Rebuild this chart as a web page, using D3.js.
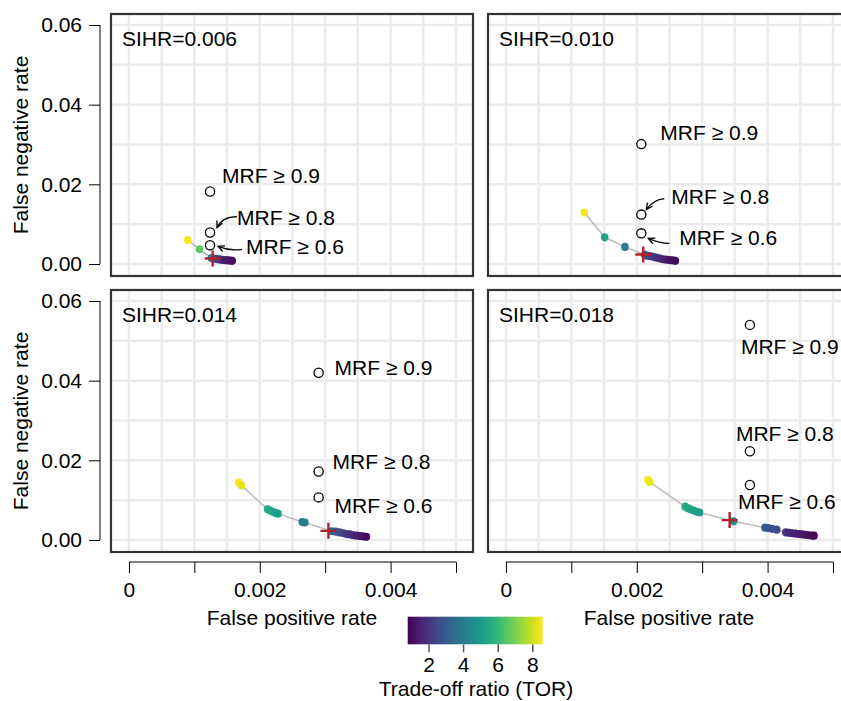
<!DOCTYPE html>
<html><head><meta charset="utf-8">
<script src="https://cdn.jsdelivr.net/npm/d3@7"></script>
<style>body{margin:0;background:#fff;} text{font-family:"Liberation Sans",Arial,sans-serif;}</style>
</head><body>
<svg id="chart" width="841" height="701"></svg>
<script>
// ---------------- DATA ----------------
const panelTitles = ["SIHR=0.006", "SIHR=0.010", "SIHR=0.014", "SIHR=0.018"];
// curve points: [false positive rate, false negative rate, TOR]
const curve1 = [[0.00090,0.0060,8.5],[0.00108,0.0037,6.7],[0.00126,0.0015,4.0],
  [0.00131,0.00135,3.0],[0.00134,0.00125,2.6],[0.00137,0.0012,2.3],[0.00140,0.0011,2.0],[0.00143,0.00105,1.8],
  [0.00146,0.0010,1.6],[0.00149,0.00095,1.4],[0.00152,0.0009,1.3],[0.00155,0.00085,1.2],[0.00158,0.0008,1.1]];
const curve2 = [[0.00120,0.0129,8.5],[0.00151,0.0067,5.4],[0.00182,0.0043,4.0],
  [0.00212,0.0023,3.2],[0.00216,0.0021,2.8],[0.00220,0.0020,2.5],[0.00225,0.0018,2.2],[0.00230,0.0016,2.0],
  [0.00235,0.0014,1.8],[0.00240,0.0012,1.6],[0.00245,0.0011,1.4],[0.00250,0.0010,1.2],[0.00255,0.0009,1.1],[0.00259,0.0008,1.0]];
const curve3 = [[0.00168,0.0144,8.6],[0.00172,0.0137,8.3],
  [0.00212,0.0077,5.6],[0.00216,0.0074,5.5],[0.00220,0.0071,5.4],[0.00224,0.0068,5.3],[0.00228,0.0066,5.2],
  [0.00265,0.0045,4.1],[0.00269,0.0044,4.0],
  [0.00310,0.0022,3.3],[0.00316,0.0021,3.0],[0.00322,0.0019,2.7],[0.00328,0.0017,2.4],[0.00333,0.0015,2.1],
  [0.00338,0.0014,1.9],[0.00343,0.0012,1.7],[0.00348,0.0011,1.5],[0.00353,0.0010,1.3],[0.00358,0.0009,1.2],[0.00363,0.0008,1.0]];
const curve4 = [[0.00217,0.0151,8.6],[0.00220,0.0145,8.3],
  [0.00274,0.0084,5.6],[0.00278,0.0080,5.5],[0.00282,0.0077,5.4],[0.00287,0.0074,5.3],[0.00292,0.0071,5.2],[0.00296,0.0069,5.1],
  [0.00348,0.0047,4.6],
  [0.00396,0.0031,3.0],[0.00401,0.0030,2.9],[0.00407,0.0028,2.7],[0.00414,0.0026,2.6],
  [0.00428,0.0019,1.9],[0.00433,0.0018,1.7],[0.00438,0.0017,1.6],[0.00443,0.0016,1.5],[0.00448,0.0015,1.4],
  [0.00453,0.0014,1.3],[0.00458,0.0013,1.2],[0.00463,0.0012,1.1],[0.00468,0.0011,1.0],[0.00471,0.0011,0.9]];
const curves = [curve1, curve2, curve3, curve4];
// selected (red cross) points: [fpr, fnr]
const chosenPoints = [[0.00128,0.0014],[0.00210,0.0024],[0.00305,0.0023],[0.00342,0.0050]];
// MRF threshold points: fpr and fnr for thresholds 0.9, 0.8, 0.6
const mrfLabels = ["MRF \u2265 0.9", "MRF \u2265 0.8", "MRF \u2265 0.6"];
const mrfFpr = [0.00124, 0.00207, 0.00290, 0.00373];
const mrfFnr = [[0.0182,0.0079,0.0047],[0.0301,0.0124,0.0077],[0.0420,0.0172,0.0107],[0.0540,0.0223,0.0138]];
const yTicks = [0, 0.02, 0.04, 0.06];
const xTicks = [0, 0.001, 0.002, 0.003, 0.004, 0.005];
const colorTicks = [2, 4, 6, 8];
const torRange = [0.8, 8.6];

// ---------------- LAYOUT ----------------
// label offsets (px, relative to circle): [dx, dy]
const labelOffsets = [
  [[12,-16],[27,-15],[36,1]],
  [[19,-12],[30,-18],[38,4]],
  [[16,-5],[14,-10],[16,8]],
  [[-9,22],[-14,-18],[-12,16]]
];
// arrows: [panel, mrfIndex, start offset, control offset, end offset]
const arrows = [
  [0,1,[27,-16],[12,-16],[7,-5]],
  [0,2,[32,4],[20,6],[8,1]],
  [1,1,[23,-16],[12,-15],[5,-5]],
  [1,2,[28,10],[18,10],[7,5]]
];

const svg = d3.select("#chart");
const fs = 21;
const colLeft = [111, 488], rowTop = [14, 290], pw = 362, ph = 262;
const xDom = [-0.000274, 0.00526], yDom = [-0.00301, 0.06276];
const color = d3.scaleSequential(d3.interpolateViridis).domain(torRange);

curves.forEach((curve, i) => {
  const c = i % 2, r = Math.floor(i / 2);
  const x = d3.scaleLinear().domain(xDom).range([colLeft[c], colLeft[c] + pw]);
  const y = d3.scaleLinear().domain(yDom).range([rowTop[r] + ph, rowTop[r]]);
  const g = svg.append("g");
  const clipId = "clip" + i;
  svg.append("clipPath").attr("id", clipId).append("rect")
    .attr("x", colLeft[c]).attr("y", rowTop[r]).attr("width", pw).attr("height", ph);
  const inner = g.append("g").attr("clip-path", `url(#${clipId})`);
  inner.append("rect").attr("x", colLeft[c]).attr("y", rowTop[r]).attr("width", pw).attr("height", ph).attr("fill", "#fff");
  // grid
  const gx = d3.range(0, 0.00551, 0.0005), gy = d3.range(-0.01, 0.0701, 0.01);
  inner.selectAll(".gx").data(gx).join("line")
    .attr("x1", d => x(d)).attr("x2", d => x(d)).attr("y1", rowTop[r]).attr("y2", rowTop[r] + ph)
    .attr("stroke", "#ebebeb").attr("stroke-width", 2.5);
  inner.selectAll(".gy").data(gy).join("line")
    .attr("y1", d => y(d)).attr("y2", d => y(d)).attr("x1", colLeft[c]).attr("x2", colLeft[c] + pw)
    .attr("stroke", "#ebebeb").attr("stroke-width", 2.5);
  // connecting line
  const sorted = curve.slice().sort((a, b) => a[0] - b[0]);
  inner.append("path").datum(sorted)
    .attr("d", d3.line().x(d => x(d[0])).y(d => y(d[1])))
    .attr("fill", "none").attr("stroke", "#bdbdbd").attr("stroke-width", 1.6);
  // points
  inner.selectAll(".pt").data(curve).join("ellipse")
    .attr("cx", d => x(d[0])).attr("cy", d => y(d[1])).attr("rx", 3.8).attr("ry", 4.1)
    .attr("fill", d => color(d[2]));
  // chosen cross
  const cp = chosenPoints[i], cs = 8;
  inner.append("path")
    .attr("d", `M${x(cp[0]) - cs},${y(cp[1])}H${x(cp[0]) + cs}M${x(cp[0])},${y(cp[1]) - cs}V${y(cp[1]) + cs}`)
    .attr("stroke", "#b2202a").attr("stroke-width", 2.4);
  // MRF circles
  mrfFnr[i].forEach((v, k) => {
    const px = x(mrfFpr[i]), py = y(v);
    inner.append("circle").attr("cx", px).attr("cy", py).attr("r", 4.6)
      .attr("fill", "#fff").attr("stroke", "#000").attr("stroke-width", 1.3);
    const off = labelOffsets[i][k];
    inner.append("text").attr("x", px + off[0]).attr("y", py + off[1]).attr("dy", "0.36em")
      .attr("font-size", fs).attr("fill", "#000").text(mrfLabels[k]);
  });
  arrows.filter(a => a[0] === i).forEach(a => {
    const px = x(mrfFpr[i]), py = y(mrfFnr[i][a[1]]);
    const s = [px + a[2][0], py + a[2][1]], q = [px + a[3][0], py + a[3][1]], e = [px + a[4][0], py + a[4][1]];
    inner.append("path").attr("d", `M${s}Q${q} ${e}`).attr("fill", "none").attr("stroke", "#000").attr("stroke-width", 1.3);
    const ang = Math.atan2(e[1] - q[1], e[0] - q[0]), L = 7, sp = 0.45;
    const h1 = [e[0] - L * Math.cos(ang - sp), e[1] - L * Math.sin(ang - sp)];
    const h2 = [e[0] - L * Math.cos(ang + sp), e[1] - L * Math.sin(ang + sp)];
    inner.append("path").attr("d", `M${h1}L${e}L${h2}`).attr("fill", "none").attr("stroke", "#000").attr("stroke-width", 1.3);
  });
  // title
  inner.append("text").attr("x", colLeft[c] + 11).attr("y", rowTop[r] + 24).attr("dy", "0.36em")
    .attr("font-size", fs).text(panelTitles[i]);
  // border
  g.append("rect").attr("x", colLeft[c]).attr("y", rowTop[r]).attr("width", pw).attr("height", ph)
    .attr("fill", "none").attr("stroke", "#333").attr("stroke-width", 2.2);

  // y axis
  if (c === 0) {
    const ax = svg.append("g").attr("transform", "translate(100,0)")
      .call(d3.axisLeft(y).tickValues(yTicks).tickFormat(d3.format(".2f")).tickSize(11).tickPadding(7));
    ax.select(".domain").remove();
    ax.append("line").attr("x1", 0).attr("x2", 0).attr("y1", y(0)).attr("y2", y(0.06)).attr("stroke", "#000");
    ax.selectAll("text").attr("font-size", fs).attr("fill", "#000").attr("font-family", "Liberation Sans, Arial, sans-serif");
    svg.append("text").attr("transform", `translate(20,${rowTop[r] + ph / 2}) rotate(-90)`)
      .attr("text-anchor", "middle").attr("dy", "0.36em").attr("font-size", fs).text("False negative rate");
  }
  // x axis
  if (r === 1) {
    const ax = svg.append("g").attr("transform", `translate(0,${rowTop[r] + ph + 10})`)
      .call(d3.axisBottom(x).tickValues(xTicks)
        .tickFormat(d => (Math.round(d * 1000) % 2 === 0) ? (d === 0 ? "0" : d3.format(".3f")(d)) : "")
        .tickSize(11).tickPadding(9));
    ax.select(".domain").remove();
    ax.append("line").attr("y1", 0).attr("y2", 0).attr("x1", x(0)).attr("x2", x(0.005)).attr("stroke", "#000");
    ax.selectAll("text").attr("font-size", fs).attr("fill", "#000").attr("font-family", "Liberation Sans, Arial, sans-serif");
    svg.append("text").attr("x", colLeft[c] + pw / 2).attr("y", 617).attr("dy", "0.36em")
      .attr("text-anchor", "middle").attr("font-size", fs).text("False positive rate");
  }
});

// ---------------- COLOR BAR ----------------
const cbx = d3.scaleLinear().domain(torRange).range([407.7, 542.7]);
const defs = svg.append("defs");
const grad = defs.append("linearGradient").attr("id", "vgrad").attr("x1", "0%").attr("x2", "100%");
d3.range(0, 1.0001, 0.05).forEach(t => grad.append("stop").attr("offset", (t * 100) + "%").attr("stop-color", d3.interpolateViridis(t)));
svg.append("rect").attr("x", cbx(torRange[0])).attr("y", 616.7).attr("width", cbx(torRange[1]) - cbx(torRange[0]))
  .attr("height", 27.6).attr("fill", "url(#vgrad)");
const cax = svg.append("g").attr("transform", "translate(0,644.3)")
  .call(d3.axisBottom(cbx).tickValues(colorTicks).tickSize(8).tickPadding(5));
cax.select(".domain").remove();
cax.selectAll("line").attr("stroke", "#555").attr("stroke-width", 1.5);
cax.selectAll("text").attr("font-size", fs).attr("fill", "#000").attr("font-family", "Liberation Sans, Arial, sans-serif");
svg.append("text").attr("x", 476).attr("y", 688).attr("dy", "0.36em").attr("text-anchor", "middle")
  .attr("font-size", fs).text("Trade-off ratio (TOR)");
</script>
</body></html>
